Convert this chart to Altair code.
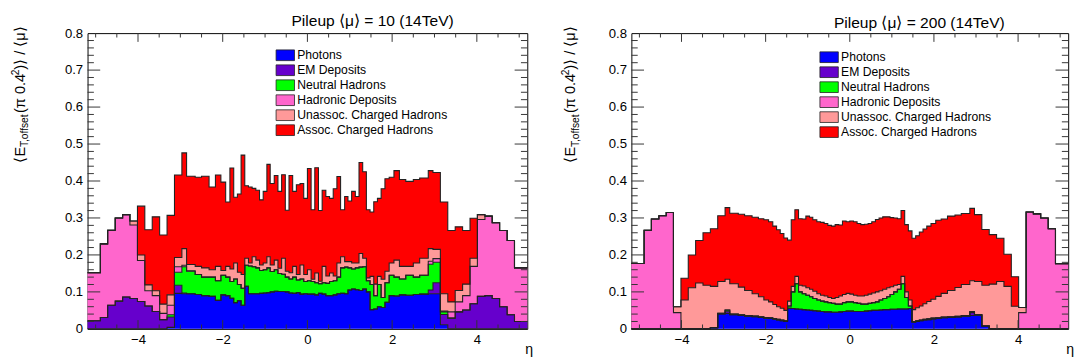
import altair as alt
import pandas as pd

FONT = "Liberation Sans"

# CMS-style eta bin edges (82 bins)
EDGES = [-5.191, -4.889, -4.716, -4.538, -4.363, -4.191, -4.013, -3.839, -3.664, -3.489,
         -3.314, -3.139, -2.964, -2.853, -2.65, -2.5, -2.322, -2.172, -2.043, -1.93,
         -1.83, -1.74, -1.653, -1.566, -1.479, -1.392, -1.305, -1.218, -1.131, -1.044,
         -0.957, -0.879, -0.783, -0.696, -0.609, -0.522, -0.435, -0.348, -0.261, -0.174,
         -0.087, 0.0, 0.087, 0.174, 0.261, 0.348, 0.435, 0.522, 0.609, 0.696,
         0.783, 0.879, 0.957, 1.044, 1.131, 1.218, 1.305, 1.392, 1.479, 1.566,
         1.653, 1.74, 1.83, 1.93, 2.043, 2.172, 2.322, 2.5, 2.65, 2.853,
         2.964, 3.139, 3.314, 3.489, 3.664, 3.839, 4.013, 4.191, 4.363, 4.538,
         4.716, 4.889, 5.191]

SERIES = ["Photons", "EM Deposits", "Neutral Hadrons", "Hadronic Deposits",
          "Unassoc. Charged Hadrons", "Assoc. Charged Hadrons"]
COLORS = ["#0000FF", "#6600CC", "#00FF00", "#FF66CC", "#FF9999", "#FF0000"]

# ---------------- Pileup <mu> = 10 ----------------
mu10_photons = [0] * 10 + [
    0.004, 0.096, 0.095, 0.095, 0.093, 0.090, 0.088, 0.077, 0.092, 0.090,
    0.083, 0.071, 0.076, 0.064, 0.115, 0.095, 0.095, 0.095, 0.096, 0.097,
    0.098, 0.100, 0.102, 0.101, 0.101, 0.100, 0.097, 0.096, 0.098, 0.094,
    0.095, 0.094, 0.094, 0.092, 0.096, 0.094, 0.090, 0.090, 0.092, 0.095,
    0.096, 0.095, 0.105, 0.108, 0.106, 0.104, 0.108, 0.100, 0.052, 0.054,
    0.060, 0.058, 0.072, 0.090, 0.089, 0.092, 0.091, 0.093, 0.094, 0.095,
    0.095, 0.011] + [0] * 10
mu10_em = [0.022, 0.031, 0.064, 0.075, 0.086, 0.082, 0.074, 0.062, 0.047, 0.025,
           0.028, 0.022, 0.002] + [0] * 56 + [
           0.010, 0.030, 0.028, 0.029, 0.046, 0.051, 0.068, 0.088, 0.090, 0.082,
           0.060, 0.038, 0.020]
mu10_neutral = [0] * 10 + [
    0.006, 0.035, 0.071, 0.061, 0.054, 0.050, 0.052, 0.053, 0.053, 0.050,
    0.045, 0.064, 0.044, 0.046, 0.057, 0.075, 0.073, 0.070, 0.062, 0.063,
    0.067, 0.055, 0.058, 0.049, 0.047, 0.040, 0.038, 0.044, 0.034, 0.041,
    0.033, 0.036, 0.034, 0.033, 0.026, 0.031, 0.033, 0.038, 0.038, 0.045,
    0.069, 0.072, 0.060, 0.054, 0.059, 0.063, 0.060, 0.030, 0.068, 0.036,
    0.060, 0.027, 0.053, 0.055, 0.051, 0.043, 0.054, 0.047, 0.051, 0.070,
    0.055, 0.007] + [0] * 10
mu10_hadronic = [0.130, 0.199, 0.203, 0.225, 0.223, 0.199, 0.111, 0.041, 0.043, 0.017,
                 0.026, 0.015, 0.004, 0.001] + [0] * 55 + [
                 0.008, 0.010, 0.002, 0.017, 0.027, 0.039, 0.101, 0.208, 0.215, 0.205,
                 0.206, 0.201, 0.145]
mu10_unassoc = [0] * 5 + [
    0.011, 0.015, 0.016, 0.013, 0.025, 0.028, 0.025, 0.045, 0.017, 0.022,
    0.025, 0.020, 0.039, 0.013, 0.029, 0.034, 0.043, 0.033, 0.037, 0.019,
    0.008, 0.027, 0.021, 0.015, 0.018, 0.030, 0.018, 0.026, 0.014, 0.043,
    0.016, 0.017, 0.029, 0.015, 0.038, 0.019, 0.030, 0.006, 0.026, 0.007,
    0.044, 0.020, 0.023, 0.013, 0.038, 0.030, 0.015, 0.017, 0.016, 0.013,
    0.037, 0.023, 0.008, 0.022, 0.031, 0.022, 0.049, 0.031, 0.033, 0.046,
    0.034, 0.024, 0.038, 0.046, 0.034, 0.025, 0.047, 0.027, 0.031, 0.031,
    0.022, 0.013] + [0] * 5
mu10_assoc = [0] * 6 + [
    0.132, 0.149, 0.200, 0.187, 0.215, 0.223, 0.259, 0.239, 0.241, 0.248,
    0.224, 0.247, 0.239, 0.174, 0.273, 0.178, 0.212, 0.323, 0.196, 0.206,
    0.185, 0.189, 0.176, 0.194, 0.250, 0.220, 0.229, 0.208, 0.226, 0.165,
    0.263, 0.203, 0.243, 0.220, 0.206, 0.274, 0.188, 0.285, 0.191, 0.206,
    0.215, 0.202, 0.236, 0.234, 0.127, 0.176, 0.164, 0.194, 0.180, 0.246,
    0.234, 0.184, 0.174, 0.223, 0.211, 0.245, 0.250, 0.232, 0.242, 0.235,
    0.230, 0.226, 0.217, 0.211, 0.208, 0.248, 0.193, 0.172, 0.145, 0.108] + [0] * 6

# ---------------- Pileup <mu> = 200 ----------------
mu200_photons = [0] * 10 + [
    0.003, 0.040, 0.042, 0.038, 0.036, 0.034, 0.033, 0.031, 0.029, 0.028,
    0.026, 0.024, 0.022, 0.020, 0.056, 0.055, 0.054, 0.053, 0.052, 0.051,
    0.050, 0.049, 0.048, 0.047, 0.046, 0.046, 0.045, 0.045, 0.046, 0.047,
    0.048, 0.048, 0.047, 0.047, 0.047, 0.048, 0.049, 0.050, 0.050, 0.051,
    0.052, 0.052, 0.053, 0.053, 0.054, 0.054, 0.054, 0.055, 0.018, 0.020,
    0.022, 0.024, 0.025, 0.027, 0.028, 0.030, 0.031, 0.032, 0.034, 0.036,
    0.037, 0.008] + [0] * 10
mu200_em = [0] * 12 + [0.006] + [0] * 56 + [0.008] + [0] * 12
mu200_neutral = [0] * 11 + [0.002, 0.003] + [0.002] * 11 + [
    0.006, 0.045, 0.068, 0.047, 0.043, 0.040, 0.037, 0.033, 0.030, 0.028,
    0.027, 0.025, 0.024, 0.022, 0.021, 0.024, 0.025, 0.025, 0.024, 0.022,
    0.020, 0.019, 0.020, 0.021, 0.023, 0.027, 0.030, 0.035, 0.040, 0.047,
    0.053, 0.068, 0.031, 0.007] + [0.002] * 11 + [0.003, 0.002] + [0] * 11
mu200_hadronic = [0.177, 0.267, 0.297, 0.306, 0.315, 0.044] + [0] * 70 + [
    0.044, 0.316, 0.311, 0.300, 0.271, 0.176]
mu200_unassoc = [0] * 5 + [
    0.016, 0.078, 0.111, 0.124, 0.118, 0.112, 0.086, 0.083, 0.082, 0.075,
    0.068, 0.060, 0.054, 0.047, 0.043, 0.038, 0.034, 0.032, 0.028, 0.013,
    0.015, 0.020, 0.018, 0.021, 0.020, 0.020, 0.020, 0.017, 0.016, 0.016,
    0.014, 0.013, 0.018, 0.022, 0.022, 0.023, 0.021, 0.020, 0.020, 0.022,
    0.024, 0.025, 0.026, 0.027, 0.025, 0.025, 0.024, 0.021, 0.018, 0.013,
    0.020, 0.015, 0.016, 0.032, 0.035, 0.038, 0.042, 0.047, 0.051, 0.058,
    0.064, 0.071, 0.078, 0.084, 0.083, 0.089, 0.110, 0.121, 0.128, 0.115,
    0.061, 0.014] + [0] * 5
mu200_assoc = [0] * 6 + [
    0.059, 0.089, 0.115, 0.142, 0.156, 0.178, 0.194, 0.191, 0.197, 0.202,
    0.207, 0.211, 0.217, 0.217, 0.212, 0.208, 0.202, 0.196, 0.165, 0.180,
    0.180, 0.180, 0.181, 0.194, 0.195, 0.193, 0.195, 0.197, 0.196, 0.195,
    0.196, 0.197, 0.192, 0.199, 0.194, 0.198, 0.199, 0.196, 0.193, 0.192,
    0.191, 0.193, 0.196, 0.197, 0.196, 0.192, 0.187, 0.182, 0.178, 0.178,
    0.182, 0.187, 0.193, 0.195, 0.200, 0.202, 0.204, 0.205, 0.206, 0.201,
    0.201, 0.196, 0.192, 0.196, 0.181, 0.151, 0.134, 0.117, 0.087, 0.080] + [0] * 6

Y_MAJOR = [0.1, 0.2, 0.3, 0.4, 0.5, 0.6, 0.7]
Y_MINOR = [0.02, 0.04, 0.06, 0.08, 0.12, 0.14, 0.16, 0.18, 0.22, 0.24, 0.26, 0.28,
           0.32, 0.34, 0.36, 0.38, 0.42, 0.44, 0.46, 0.48, 0.52, 0.54, 0.56, 0.58,
           0.62, 0.64, 0.66, 0.68, 0.72, 0.74, 0.76, 0.78]
X_MAJOR = [-4, -2, 0, 2, 4]
X_MINOR = [-5, -4.5, -3.5, -3, -2.5, -1.5, -1, -0.5, 0.5, 1, 1.5, 2.5, 3, 3.5, 4.5, 5]
Y_LABELS = [0, 0.1, 0.2, 0.3, 0.4, 0.5, 0.6, 0.7, 0.8]

NB = len(EDGES) - 1


def stack_table(series_values):
    rows = []
    base = [0.0] * NB
    for name, vals in zip(SERIES, series_values):
        top = [b + v for b, v in zip(base, vals)]
        for i in range(NB + 1):
            j = min(i, NB - 1)
            rows.append({"series": name, "x": EDGES[i], "bottom": base[j], "top": top[j]})
        base = top
    return pd.DataFrame(rows)


# approximate advance widths (em) for layout of the composite axis title
WID = {"E": .667, "T": .611, ",": .278, "o": .556, "f": .278, "s": .5, "e": .556,
       "t": .278, "(": .333, "π": .583, " ": .278, "0": .556, ".": .278, "4": .556,
       "2": .556, ")": .333, "/": .278, "μ": .576, "⟨": .39, "⟩": .39}


def tw(s, fs):
    return sum(WID.get(c, .55) for c in s) * fs


def text_at(t, x, y, fs, angle=0, align="center", baseline="middle"):
    return alt.Chart(pd.DataFrame({"t": [t]})).mark_text(
        font=FONT, fontSize=fs, angle=angle, align=align, baseline=baseline, color="black"
    ).encode(text="t:N", x=alt.value(x), y=alt.value(y))


XS = alt.Scale(domain=[EDGES[0], EDGES[-1]], nice=False, zero=False)
YS = alt.Scale(domain=[0, 0.8], nice=False, zero=True)
X_AX = alt.Axis(values=X_MAJOR, title=None, grid=False, ticks=False, tickSize=0,
                domain=False, labelFont=FONT, labelFontSize=13.5, labelColor="black",
                labelPadding=4, labelFlush=False)
Y_AX = alt.Axis(values=Y_LABELS, format=".1~f", title=None, grid=False, ticks=False,
                tickSize=0, domain=False, labelFont=FONT, labelFontSize=13.5,
                labelColor="black", labelPadding=5, labelFlush=False)


def panel(series_values, title, W, H, title_x, title_y, ylab_cx, legend_x, legend_y):
    df = stack_table(series_values)
    area = alt.Chart(df).mark_area(interpolate="step-after", opacity=1, line=False).encode(
        x=alt.X("x:Q", scale=XS, axis=X_AX),
        y=alt.Y("top:Q", stack=None, scale=YS, axis=Y_AX),
        y2="bottom:Q",
        color=alt.Color("series:N", scale=alt.Scale(domain=SERIES, range=COLORS),
                        legend=alt.Legend(
                            title=None, orient="none", legendX=legend_x, legendY=legend_y,
                            symbolType="M-1.72,-1L1.72,-1L1.72,1L-1.72,1Z", symbolSize=121,
                            symbolStrokeColor="#222", symbolStrokeWidth=0.8,
                            symbolOpacity=1, labelFont=FONT, labelFontSize=12.5,
                            labelColor="black", labelOffset=6, rowPadding=0.4,
                            padding=0, labelLimit=400)),
    )
    outline = alt.Chart(df).mark_line(interpolate="step-after", color="#222",
                                      strokeWidth=1.1).encode(
        x=alt.X("x:Q", scale=XS, axis=X_AX),
        y=alt.Y("top:Q", scale=YS, axis=Y_AX),
        detail="series:N",
    )
    layers = [area, outline]

    def yt(vals, L):
        d = pd.DataFrame({"x": [0.0] * len(vals), "top": vals})
        a = alt.Chart(d).mark_rule(color="#333", strokeWidth=1).encode(
            y=alt.Y("top:Q", scale=YS, axis=Y_AX), x=alt.value(0), x2=alt.value(L))
        b = alt.Chart(d).mark_rule(color="#333", strokeWidth=1).encode(
            y=alt.Y("top:Q", scale=YS, axis=Y_AX), x=alt.value(W - L), x2=alt.value(W))
        return [a, b]

    def xt(vals, L):
        d = pd.DataFrame({"x": vals})
        a = alt.Chart(d).mark_rule(color="#333", strokeWidth=1).encode(
            x=alt.X("x:Q", scale=XS, axis=X_AX), y=alt.value(H), y2=alt.value(H - L))
        b = alt.Chart(d).mark_rule(color="#333", strokeWidth=1).encode(
            x=alt.X("x:Q", scale=XS, axis=X_AX), y=alt.value(0), y2=alt.value(L))
        return [a, b]

    layers += yt(Y_MAJOR, 13) + yt(Y_MINOR, 6.5) + xt(X_MAJOR, 9) + xt(X_MINOR, 4.5)

    # title
    layers.append(text_at(title, title_x, title_y, 16))
    # x axis label
    layers.append(text_at("η", W + 2, H + 22, 14.5))
    # composite y axis title (rotated), built from pieces
    fs_main, fs_small = 15, 10.5
    xb = ylab_cx + 5.4
    pieces = [("⟨E", fs_main, 0), ("T,offset", fs_small, 3.6), ("(π 0.4", fs_main, 0),
              ("2", fs_small, -6.2), (")⟩ / ⟨μ⟩", fs_main, 0)]
    ypos = 133
    for t, fs, dx in pieces:
        layers.append(text_at(t, xb + dx, ypos, fs, angle=270, align="left",
                              baseline="alphabetic"))
        ypos -= tw(t, fs)
    return alt.layer(*layers).properties(width=W, height=H)


left = panel([mu10_photons, mu10_em, mu10_neutral, mu10_hadronic, mu10_unassoc, mu10_assoc],
             "Pileup ⟨μ⟩ = 10 (14TeV)", 452, 304, 293, -12, -70, 197, 16.5)
right = panel([mu200_photons, mu200_em, mu200_neutral, mu200_hadronic, mu200_unassoc,
               mu200_assoc],
              "Pileup ⟨μ⟩ = 200 (14TeV)", 449, 304, 296, -10.5, -63, 197, 18.5)

chart = alt.hconcat(left, right, spacing=27).resolve_scale(
    color="independent", x="independent", y="independent"
).resolve_legend(color="independent").properties(
    padding={"left": 10, "top": 8, "right": 0, "bottom": 0}, background="white"
).configure_view(stroke="black", strokeWidth=1)

chart.save("out.html", embed_options={"renderer": "svg", "actions": False})
